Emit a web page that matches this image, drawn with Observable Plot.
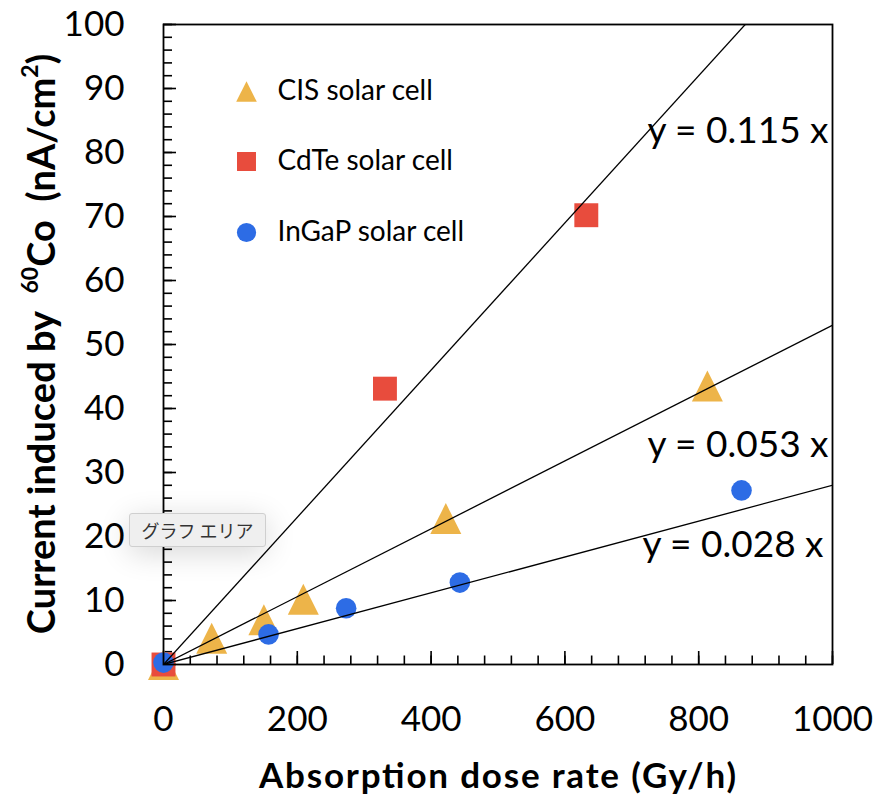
<!DOCTYPE html>
<html>
<head>
<meta charset="utf-8">
<script src="https://cdn.jsdelivr.net/npm/d3@7"></script>
<script src="https://cdn.jsdelivr.net/npm/@observablehq/plot@0.6"></script>
<style>
  body { margin: 0; background: #fff; }
  #chart { position: relative; width: 889px; height: 796px; }
  #chart svg { display: block; }
  .tip {
    position: absolute; left: 129px; top: 513px; width: 135px; height: 32px;
    background: #efefef; border: 1px solid #cfcfcf; border-radius: 3px;
    box-shadow: 0 6px 30px rgba(0,0,0,0.16);
    font: 18px "Noto Sans CJK JP", sans-serif; color: #333;
    display: flex; align-items: center; justify-content: center;
  }
</style>
</head>
<body>
<div id="chart"></div>
<script>
// Series definitions
const seriesNames  = ["CIS solar cell", "CdTe solar cell", "InGaP solar cell"];
const seriesColors = ["#edb449", "#e84c3d", "#2d6ce5"];

// Measured points: absorption dose rate (Gy/h) vs induced current (nA/cm²)
const cisDose      = [0, 72, 150, 209, 422, 813];
const cisCurrent   = [0, 4.1, 7.0, 10.2, 22.8, 43.5];
const cdteDose     = [0, 331, 632];
const cdteCurrent  = [0, 43.1, 70.2];
const ingapDose    = [0, 157, 273, 443, 864];
const ingapCurrent = [0.3, 4.7, 8.8, 12.8, 27.2];

// Linear fits through the origin
const fitSlopes = [0.115, 0.053, 0.028];
const fitLabels = ["y = 0.115 x", "y = 0.053 x", "y = 0.028 x"];

// Axis ticks
const xMajorTicks = [0, 200, 400, 600, 800, 1000];
const xMinorTicks = [0, 40, 80, 120, 160, 200, 240, 280, 320, 360, 400, 440, 480, 520, 560, 600, 640, 680, 720, 760, 800, 840, 880, 920, 960, 1000];
const yMajorTicks = [0, 10, 20, 30, 40, 50, 60, 70, 80, 90, 100];
const yMinorTicks = [0, 2, 4, 6, 8, 10, 12, 14, 16, 18, 20, 22, 24, 26, 28, 30, 32, 34, 36, 38, 40, 42, 44, 46, 48, 50, 52, 54, 56, 58, 60, 62, 64, 66, 68, 70, 72, 74, 76, 78, 80, 82, 84, 86, 88, 90, 92, 94, 96, 98, 100];

// Triangle marker whose box is centred on the point
const triangle = {
  draw(context, size) {
    const r = Math.sqrt(size / Math.PI);
    context.moveTo(0, -r);
    context.lineTo(r, r);
    context.lineTo(-r, r);
    context.closePath();
  }
};
const seriesSymbols = [triangle, "square", "circle"];
const seriesR = [15.5, 13.5, 10.3];
const legendR = [10.3, 10.7, 9.6];

const doses = [cisDose, cdteDose, ingapDose];
const currents = [cisCurrent, cdteCurrent, ingapCurrent];
const points = seriesNames.flatMap((name, i) =>
  doses[i].map((d, j) => ({series: i, dose: d, current: currents[i][j]})));

const W = 889, H = 796;
const mL = 163, mR = 57, mT = 24, mB = 132;
const innerW = W - mL - mR, innerH = H - mT - mB;
const FONT = "Lato, 'Open Sans', sans-serif";

const legendDy = [67, 137, 208];
const labelDy = [107, 421, 521];
const labelDx = [-4, -4, -9];

const marks = [
  // inward minor and major ticks
  Plot.tickY(yMinorTicks, {y: d => d, insetRight: innerW - 9, stroke: "#000", strokeWidth: 1.6}),
  Plot.tickY(yMajorTicks, {y: d => d, insetRight: innerW - 13, stroke: "#000", strokeWidth: 1.6}),
  Plot.tickX(xMinorTicks, {x: d => d, insetTop: innerH - 8.5, stroke: "#000", strokeWidth: 1.6}),
  Plot.tickX(xMajorTicks, {x: d => d, insetTop: innerH - 13, stroke: "#000", strokeWidth: 1.6}),
  Plot.axisY({ticks: yMajorTicks, tickSize: 0, tickPadding: 39, fontSize: 35, label: null, tickFormat: d => String(d)}),
  Plot.axisX({ticks: xMajorTicks, tickSize: 0, tickPadding: 42, fontSize: 35, label: null, tickFormat: d => String(d)}),
  // data points
  ...seriesNames.map((name, i) =>
    Plot.dot(points.filter(p => p.series === i), {
      x: "dose", y: "current", symbol: () => seriesSymbols[i], fill: seriesColors[i], r: seriesR[i], stroke: "none"
    })),
  // fitted lines
  Plot.link(fitSlopes, {x1: 0, y1: 0, x2: 1000, y2: k => k * 1000, stroke: "#000", strokeWidth: 1.3, clip: true}),
  Plot.frame({stroke: "#000", strokeWidth: 1.8}),
  // legend
  ...seriesNames.map((name, i) =>
    Plot.dot([name], {frameAnchor: "top-left", dx: 83, dy: legendDy[i], symbol: () => seriesSymbols[i], fill: seriesColors[i], r: legendR[i], stroke: "none"})),
  ...seriesNames.map((name, i) =>
    Plot.text([name], {frameAnchor: "top-left", dx: 114, dy: legendDy[i], text: d => d, textAnchor: "start", lineAnchor: "middle", fontSize: 28, fill: "#000"})),
  // fit equations
  ...fitLabels.map((lab, i) =>
    Plot.text([lab], {frameAnchor: "top-right", dx: labelDx[i], dy: labelDy[i], text: d => d, textAnchor: "end", lineAnchor: "middle", fontSize: 37, fill: "#000"}))
];

const chart = Plot.plot({
  width: W, height: H,
  marginLeft: mL, marginRight: mR, marginTop: mT, marginBottom: mB,
  x: {domain: [0, 1000]},
  y: {domain: [0, 100]},
  style: {fontFamily: FONT, background: "#fff", color: "#000"},
  marks
});

const svg = d3.select(chart);

// x axis title
svg.append("text")
  .attr("x", mL + innerW / 2)
  .attr("y", 788)
  .attr("text-anchor", "middle")
  .attr("font-family", FONT)
  .attr("font-size", 35)
  .attr("font-weight", "bold")
  .attr("fill", "#000")
  .attr("textLength", 477)
  .attr("lengthAdjust", "spacing")
  .text("Absorption dose rate (Gy/h)");

// y axis title with superscripts
const yTitle = svg.append("text")
  .attr("transform", `translate(42,${mT + innerH / 2}) rotate(-90)`)
  .attr("text-anchor", "middle")
  .attr("dy", "0.35em")
  .attr("font-family", FONT)
  .attr("font-size", 38)
  .attr("font-weight", "bold")
  .attr("fill", "#000")
  .style("white-space", "pre");
yTitle.append("tspan").text("Current induced by  ");
yTitle.append("tspan").attr("font-size", 23).attr("dy", "-0.75em").text("60");
yTitle.append("tspan").attr("dy", "0.45em").text("Co  (nA/cm");
yTitle.append("tspan").attr("font-size", 23).attr("dy", "-0.75em").text("2");
yTitle.append("tspan").attr("dy", "0.45em").text(")");

const host = document.getElementById("chart");
host.appendChild(chart);
const tip = document.createElement("div");
tip.className = "tip";
tip.textContent = "グラフ エリア";
host.appendChild(tip);
</script>
</body>
</html>
